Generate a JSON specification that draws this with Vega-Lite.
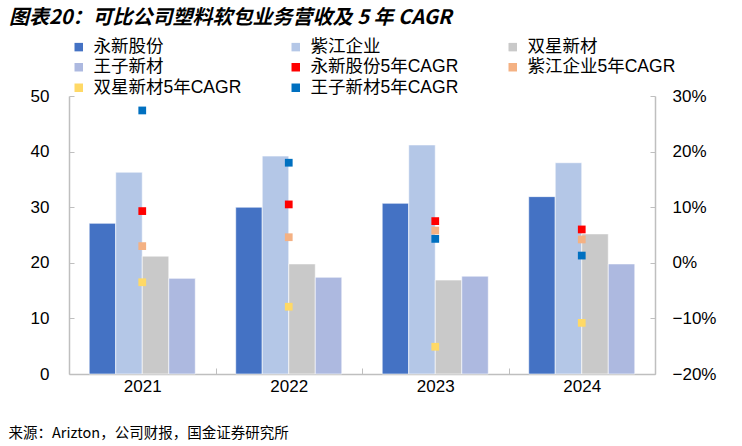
{
  "$schema": "https://vega.github.io/schema/vega-lite/v6.json",
  "width": 586,
  "height": 278,
  "autosize": "none",
  "padding": {"left": 69, "top": 96, "right": 87, "bottom": 72},
  "title": {
    "text": "图表20：可比公司塑料软包业务营收及 5 年 CAGR",
    "anchor": "start",
    "frame": "group",
    "dx": -60,
    "offset": 10,
    "font": "Noto Sans CJK SC",
    "fontSize": 20,
    "fontStyle": "italic",
    "fontWeight": "bold",
    "color": "#000000"
  },
  "datasets": {
    "revenue": [
      {"year": "2021", "series": "永新股份", "value": 27.1},
      {"year": "2021", "series": "紫江企业", "value": 36.3},
      {"year": "2021", "series": "双星新材", "value": 21.2},
      {"year": "2021", "series": "王子新材", "value": 17.2},
      {"year": "2022", "series": "永新股份", "value": 30.0},
      {"year": "2022", "series": "紫江企业", "value": 39.2},
      {"year": "2022", "series": "双星新材", "value": 19.8},
      {"year": "2022", "series": "王子新材", "value": 17.4},
      {"year": "2023", "series": "永新股份", "value": 30.7},
      {"year": "2023", "series": "紫江企业", "value": 41.2},
      {"year": "2023", "series": "双星新材", "value": 16.9},
      {"year": "2023", "series": "王子新材", "value": 17.6},
      {"year": "2024", "series": "永新股份", "value": 31.9},
      {"year": "2024", "series": "紫江企业", "value": 38.0},
      {"year": "2024", "series": "双星新材", "value": 25.2},
      {"year": "2024", "series": "王子新材", "value": 19.8}
    ],
    "cagr": [
      {"year": "2021", "series": "永新股份5年CAGR", "cagr": 0.093},
      {"year": "2021", "series": "紫江企业5年CAGR", "cagr": 0.030},
      {"year": "2021", "series": "双星新材5年CAGR", "cagr": -0.035},
      {"year": "2021", "series": "王子新材5年CAGR", "cagr": 0.274},
      {"year": "2022", "series": "永新股份5年CAGR", "cagr": 0.105},
      {"year": "2022", "series": "紫江企业5年CAGR", "cagr": 0.046},
      {"year": "2022", "series": "双星新材5年CAGR", "cagr": -0.079},
      {"year": "2022", "series": "王子新材5年CAGR", "cagr": 0.180},
      {"year": "2023", "series": "永新股份5年CAGR", "cagr": 0.075},
      {"year": "2023", "series": "紫江企业5年CAGR", "cagr": 0.058},
      {"year": "2023", "series": "双星新材5年CAGR", "cagr": -0.151},
      {"year": "2023", "series": "王子新材5年CAGR", "cagr": 0.043},
      {"year": "2024", "series": "永新股份5年CAGR", "cagr": 0.060},
      {"year": "2024", "series": "紫江企业5年CAGR", "cagr": 0.042},
      {"year": "2024", "series": "双星新材5年CAGR", "cagr": -0.108},
      {"year": "2024", "series": "王子新材5年CAGR", "cagr": 0.013}
    ]
  },
  "encoding": {
    "x": {
      "field": "year",
      "type": "nominal",
      "scale": {"paddingInner": 0.276, "paddingOuter": 0.138},
      "axis": {
        "title": "来源：Arizton，公司财报，国金证券研究所",
        "titleAnchor": "start",
        "titleAlign": "left",
        "titleBaseline": "middle",
        "titleX": -61,
        "titleY": 59,
        "titleFont": "Noto Sans CJK SC",
        "titleFontSize": 14.5,
        "titleFontWeight": "normal",
        "titleColor": "#000000",
        "labelAngle": 0,
        "labelFont": "Liberation Sans",
        "labelFontSize": 17,
        "labelColor": "#000000",
        "labelPadding": 10,
        "tickOffset": 73.25,
        "labelOffset": -73.25,
        "tickSize": -6,
        "tickColor": "#BFBFBF",
        "domainColor": "#BFBFBF",
        "domainWidth": 1.5
      }
    }
  },
  "layer": [
    {
      "data": {"name": "revenue"},
      "mark": {"type": "bar", "stroke": "#ffffff", "strokeWidth": 0.6},
      "encoding": {
        "xOffset": {
          "field": "series",
          "type": "nominal",
          "sort": ["永新股份", "紫江企业", "双星新材", "王子新材"],
          "scale": {"paddingInner": 0, "paddingOuter": 0}
        },
        "y": {
          "field": "value",
          "type": "quantitative",
          "scale": {"domain": [0, 50], "nice": false},
          "axis": {
            "title": null,
            "values": [0, 10, 20, 30, 40, 50],
            "grid": false,
            "tickSize": -5,
            "tickColor": "#BFBFBF",
            "domainColor": "#BFBFBF",
            "domainWidth": 1.5,
            "labelFont": "Liberation Sans",
            "labelFontSize": 17,
            "labelColor": "#000000",
            "labelPadding": 25
          }
        },
        "color": {
          "field": "series",
          "type": "nominal",
          "scale": {
            "domain": ["永新股份", "紫江企业", "双星新材", "王子新材", "永新股份5年CAGR", "紫江企业5年CAGR", "双星新材5年CAGR", "王子新材5年CAGR"],
            "range": ["#4472C4", "#B4C7E7", "#C9C9C9", "#ADB9E0", "#FF0000", "#F4B183", "#FFD966", "#0070C0"]
          },
          "legend": {
            "title": null,
            "orient": "none",
            "direction": "horizontal",
            "legendX": 1,
            "legendY": -58,
            "columns": 3,
            "gridAlign": "all",
            "columnPadding": 45,
            "rowPadding": 1.5,
            "symbolType": "square",
            "symbolSize": 72,
            "symbolStrokeWidth": 0,
            "labelFont": "Liberation Sans, Noto Sans CJK SC",
            "labelFontSize": 17.5,
            "labelColor": "#000000",
            "labelOffset": 6,
            "labelLimit": 300
          }
        }
      }
    },
    {
      "data": {"name": "cagr"},
      "mark": {"type": "point", "shape": "square", "filled": true, "size": 60, "opacity": 1},
      "encoding": {
        "y": {
          "field": "cagr",
          "type": "quantitative",
          "scale": {"domain": [-0.2, 0.3], "nice": false},
          "axis": {
            "orient": "right",
            "title": null,
            "format": ".0%",
            "values": [-0.2, -0.1, 0, 0.1, 0.2, 0.3],
            "grid": false,
            "tickSize": -5,
            "tickColor": "#BFBFBF",
            "domainColor": "#BFBFBF",
            "domainWidth": 1.5,
            "labelFont": "Liberation Sans",
            "labelFontSize": 17,
            "labelColor": "#000000",
            "labelPadding": 22
          }
        },
        "color": {"field": "series", "type": "nominal"}
      }
    }
  ],
  "resolve": {"scale": {"y": "independent"}},
  "config": {"view": {"stroke": null}}
}
